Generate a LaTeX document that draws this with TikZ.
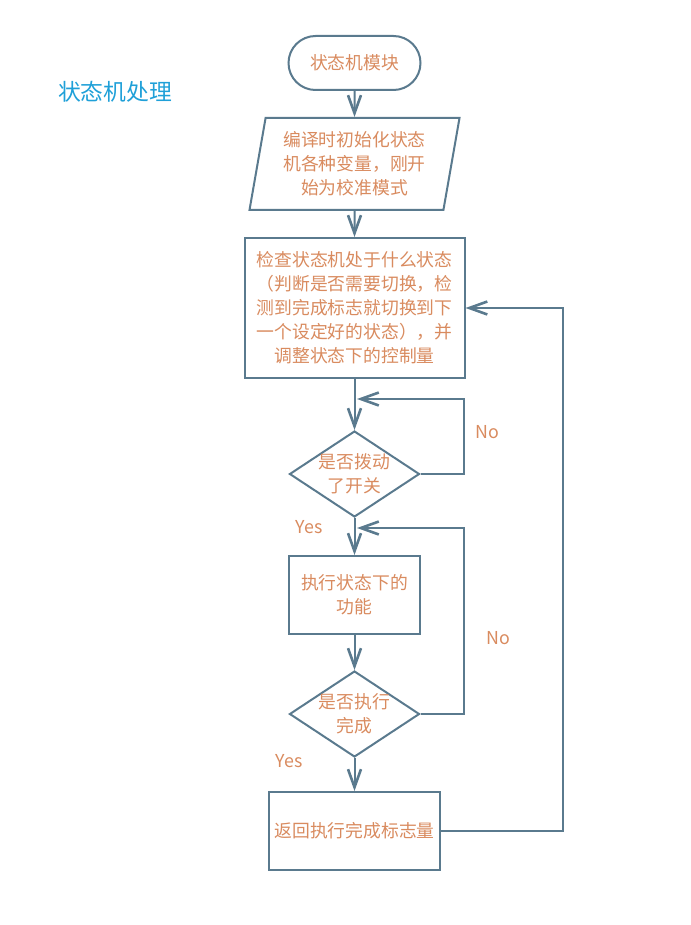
\documentclass[tikz,border=0pt]{standalone}
\usepackage{fontspec}
\setmainfont{Noto Sans CJK SC}
\usepackage{tikz}
\usetikzlibrary{shapes.geometric}
\usetikzlibrary{arrows.meta}
\definecolor{wire}{HTML}{5A7A8E}
\definecolor{txt}{HTML}{D98B5F}
\definecolor{ttl}{HTML}{1FA0D8}
\tikzset{
  blk/.style={draw=wire, line width=1pt, fill=white, text=txt, align=center, font=\fontsize{8.9}{12}\selectfont},
  term/.style={blk, rectangle, rounded corners=13.5pt, minimum width=66pt, minimum height=27pt},
  io/.style={blk, trapezium, trapezium left angle=76, trapezium right angle=104, trapezium stretches body, minimum width=105pt, minimum height=46pt, inner sep=0pt},
  proc/.style={blk, rectangle, inner sep=0pt},
  dec/.style={draw=wire, line width=1pt, diamond, minimum width=65pt, minimum height=43pt, inner sep=0pt},
  lbl/.style={text=txt, font=\fontsize{8.9}{12}\selectfont},
  wireline/.style={draw=wire, line width=1pt, -{Straight Barb[length=9pt,width=6.5pt,line width=1.3pt]}},
}

\begin{document}
\begin{tikzpicture}[x=0.5pt, y=-0.5pt]
    	% Frame and title:
    	\useasboundingbox (0,0) rectangle (690,925);
    	\node[text=ttl, font=\fontsize{11.4}{14}\selectfont](T) at (115,92){状态机处理};
    	% Blocks:
    	\node[term](start) at (354.5,63){状态机模块};
    	\node[io](init) at (354.5,164){编译时初始化状态\\机各种变量，刚开\\始为校准模式};
    	\node[proc, minimum width=110pt, minimum height=70pt](check) at (354.5,308){检查状态机处于什么状态\\（判断是否需要切换，检\\测到完成标志就切换到下\\一个设定好的状态），并\\调整状态下的控制量};
    	\node[dec](D1) at (354.5,474){} node[lbl, align=center] at (D1.center){是否拨动\\了开关};
    	\node[proc, minimum width=65.5pt, minimum height=39pt](work) at (354.5,595){执行状态下的\\功能};
    	\node[dec](D2) at (354.5,714){} node[lbl, align=center] at (D2.center){是否执行\\完成};
    	\node[proc, minimum width=85.5pt, minimum height=39pt](ret) at (354.5,831){返回执行完成标志量};
    	% Junctions:
    	\coordinate (J1) at (357,399);
    	\coordinate (J2) at (357,528);
    	% Wires:
    	\draw[wireline] (start.south) -- (init.north);
    	\draw[wireline] (init.south) -- (check.north);
    	\draw[wireline] (check.south) -- (D1.north);
    	\draw[wireline] (D1.east) -- ++(43,0) |- (J1);
    	\draw[wireline] (D1.south) -- (work.north);
    	\draw[wireline] (work.south) -- (D2.north);
    	\draw[wireline] (D2.east) -- ++(43,0) |- (J2);
    	\draw[wireline] (D2.south) -- (ret.north);
    	\draw[wireline] (ret.east) -- ++(122,0) |- (check.east);
    	% Labels:
    	\node[lbl](N1) at (487,432){No};
    	\node[lbl](Y1) at (309,527){Yes};
    	\node[lbl](N2) at (498,638){No};
    	\node[lbl](Y2) at (289,761){Yes};
\end{tikzpicture}
\end{document}
